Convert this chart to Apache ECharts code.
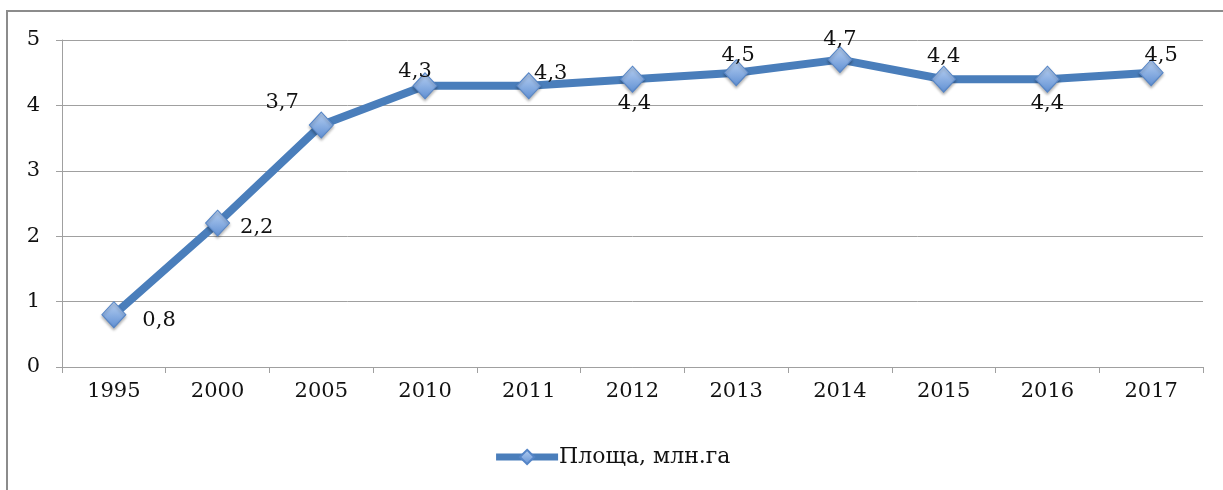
<!DOCTYPE html>
<html>
<head>
<meta charset="utf-8">
<script src="https://cdn.jsdelivr.net/npm/echarts@6/dist/echarts.min.js"></script>
<style>
  html, body { margin: 0; padding: 0; background: #fff; }
  #frame {
    position: absolute; left: 6px; top: 10px; width: 1230px; height: 500px;
    border-left: 2px solid #8c8c8c; border-top: 2px solid #8c8c8c;
  }
  #chart { position: absolute; left: 0; top: 0; width: 1223px; height: 490px; }
</style>
</head>
<body>
<div id="frame"></div>
<div id="chart"></div>
<script>
const years = ['1995', '2000', '2005', '2010', '2011', '2012', '2013', '2014', '2015', '2016', '2017'];
const area = [0.8, 2.2, 3.7, 4.3, 4.3, 4.4, 4.5, 4.7, 4.4, 4.4, 4.5];
const seriesName = 'Площа, млн.га';

// label placement, roughly as in the original
const labelPos = ['right', 'right', 'left', 'top', 'top', 'bottom', 'top', 'top', 'top', 'bottom', 'top'];
const labelOffset = [[10, 6], [4, 4], [-4, -22], [-10, 16], [22, 18], [2, -6], [2, 13], [0, 10], [0, 7], [0, -6], [10, 13]];

const font = '"DejaVu Serif", "Liberation Serif", serif';
const chart = echarts.init(document.getElementById('chart'));

const markerColor = new echarts.graphic.LinearGradient(0, 0, 0, 1, [
  { offset: 0, color: '#b9d1f2' },
  { offset: 1, color: '#5f8fd3' }
]);

chart.setOption({
  animation: false,
  textStyle: { fontFamily: font },
  grid: { left: 62, right: 20, top: 40, bottom: 123 },
  legend: {
    bottom: 17,
    left: 'center',
    itemWidth: 62,
    itemHeight: 18,
    itemGap: 4,
    lineStyle: { width: 7 },
    textStyle: { fontFamily: font, fontSize: 22, color: '#111', padding: [0, 0, 0, -4] },
    data: [seriesName]
  },
  xAxis: {
    type: 'category',
    data: years,
    boundaryGap: true,
    axisLine: { lineStyle: { color: '#a0a0a0', width: 1 } },
    axisTick: { show: true, length: 6, lineStyle: { color: '#a0a0a0' } },
    axisLabel: { fontFamily: font, fontSize: 21, color: '#111', margin: 14 }
  },
  yAxis: {
    type: 'value',
    min: 0, max: 5, interval: 1,
    axisLine: { show: true, lineStyle: { color: '#a0a0a0', width: 1 } },
    axisTick: { show: true, length: 6, lineStyle: { color: '#a0a0a0' } },
    splitLine: { lineStyle: { color: '#a0a0a0', width: 1 } },
    axisLabel: { fontFamily: font, fontSize: 21, color: '#111', margin: 22 }
  },
  series: [{
    name: seriesName,
    type: 'line',
    data: area.map((v, i) => ({
      value: v,
      label: { position: labelPos[i], offset: labelOffset[i] }
    })),
    symbol: 'diamond',
    symbolSize: [24, 26],
    lineStyle: { color: '#4a7ebb', width: 8 },
    itemStyle: { color: markerColor, borderColor: '#5585c7', borderWidth: 1,
      shadowColor: 'rgba(0,0,0,0.3)', shadowBlur: 3, shadowOffsetY: 2 },
    label: {
      show: true,
      fontFamily: font,
      fontSize: 21,
      color: '#111',
      distance: 6,
      formatter: p => String(p.value).replace('.', ',')
    }
  }],
  color: ['#4a7ebb']
});
</script>
</body>
</html>
